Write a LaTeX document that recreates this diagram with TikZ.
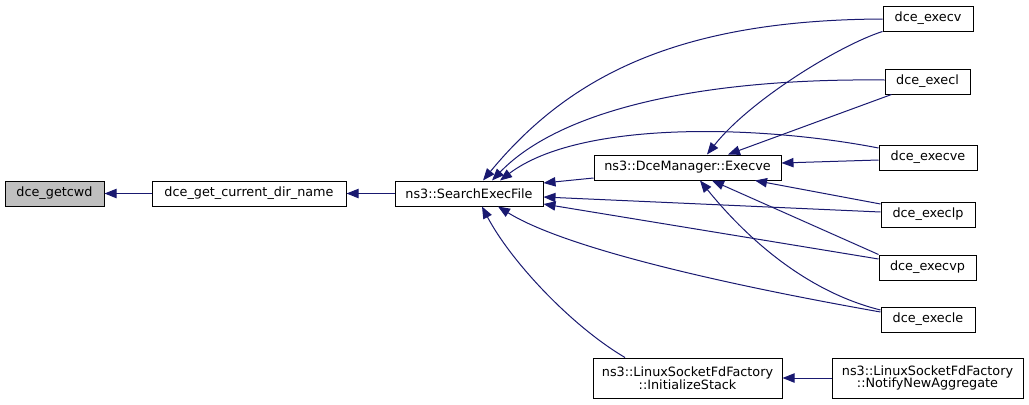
\documentclass[tikz,border=0pt]{standalone}
\usepackage{fontspec}
\setmainfont{DejaVu Sans}
\usetikzlibrary{arrows.meta,calc}
\definecolor{edgeblue}{HTML}{191970}
\definecolor{hlgrey}{HTML}{BFBFBF}
\begin{document}
\begin{tikzpicture}[x=0.75pt,y=-0.75pt,
  box/.style={draw=black, line width=0.75pt, fill=white, inner sep=0pt,
    minimum height=18.75pt, font=\fontsize{9.6}{9.6}\selectfont, align=center},
  tallbox/.style={box, minimum height=30pt},
  wd/.style={minimum width=#1*0.75pt},
  edge/.style={draw=edgeblue, line width=0.75pt,
    -{Triangle[length=9pt,width=7pt,fill=edgeblue]}}]
\useasboundingbox (0,0) rectangle (1029,404);
% nodes
\node[box, wd=99, fill=hlgrey] (getcwd) at (54.5,193.5) {dce\_getcwd};
\node[box, wd=194] (curdir) at (249,193.5) {dce\_get\_current\_dir\_name};
\node[box, wd=148] (search) at (469,193.5) {ns3::SearchExecFile};
\node[box, wd=187] (mgr) at (687.5,167.5) {ns3::DceManager::Execve};
\node[box, wd=90] (execv) at (928,18.5) {dce\_execv};
\node[box, wd=85] (execl) at (927.5,81.5) {dce\_execl};
\node[box, wd=98] (execve) at (928,157.5) {dce\_execve};
\node[box, wd=94] (execlp) at (928,214.5) {dce\_execlp};
\node[box, wd=97] (execvp) at (927.5,267.5) {dce\_execvp};
\node[box, wd=94] (execle) at (928,319.5) {dce\_execle};
\node[tallbox, wd=189] (init) at (687.5,378) {ns3::LinuxSocketFdFactory\\::InitializeStack};
\node[tallbox, wd=191] (notify) at (927.5,378) {ns3::LinuxSocketFdFactory\\::NotifyNewAggregate};
% edges
\draw[edge] (curdir) -- (getcwd);
\draw[edge] (search) -- (curdir);
\draw[edge] ($(mgr.west)+(0,10.5)$) -- ($(search.east)+(0,-10.5)$);
\draw[edge] ($(execv.west)+(0,0.5)$) .. controls (680,20) and (570,75) .. ($(search.north)+(14,0)$);
\draw[edge] ($(execl.west)+(0,-1.5)$) .. controls (700,78) and (560,110) .. ($(search.north)+(23,0)$);
\draw[edge] ($(execve.west)+(0,-9.5)$) .. controls (760,125) and (580,120) .. ($(search.north)+(31,0)$);
\draw[edge] ($(execlp.west)+(0,-2.5)$) -- ($(search.east)+(0,3.5)$);
\draw[edge] ($(execvp.west)+(0,-8.5)$) -- ($(search.east)+(0,10.5)$);
\draw[edge] ($(execle.west)+(0,-7.5)$) .. controls (700,280) and (560,245) .. ($(search.south)+(29,0)$);
\draw[edge] ($(init.north)+(-62.5,0)$) .. controls (570,325) and (510,260) .. ($(search.south)+(13,0)$);
\draw[edge] (execv.south west) .. controls (840,45) and (750,100) .. ($(mgr.north)+(19.5,0)$);
\draw[edge] ($(execl.south west)+(7,0)$) -- ($(mgr.north)+(40.5,0)$);
\draw[edge] ($(execve.west)+(0,2.5)$) -- ($(mgr.east)+(0,-4.5)$);
\draw[edge] ($(execlp.west)+(0,-10.5)$) -- ($(mgr.south)+(67.5,0)$);
\draw[edge] (execvp.north west) -- ($(mgr.south)+(24.5,0)$);
\draw[edge] ($(execle.west)+(0,-9.5)$) .. controls (800,290) and (740,230) .. ($(mgr.south)+(12.5,0)$);
\draw[edge] (notify) -- (init);
\end{tikzpicture}
\end{document}
